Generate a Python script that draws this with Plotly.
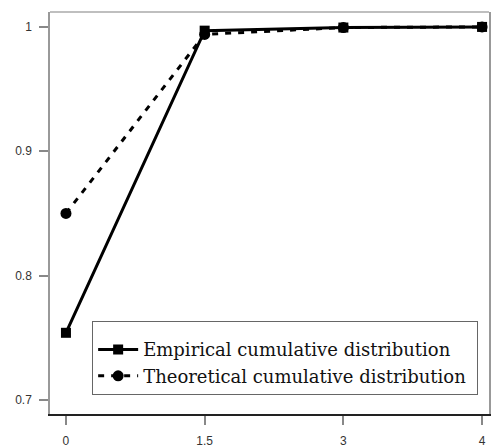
import plotly.graph_objects as go

x_labels = ["0", "1.5", "3", "4"]
empirical = [0.754, 0.997, 0.9995, 1.0]
theoretical = [0.850, 0.994, 0.9995, 1.0]
y_ticks = [0.7, 0.8, 0.9, 1.0]
y_ticktext = ["0.7", "0.8", "0.9", "1"]

fig = go.Figure()
fig.add_trace(go.Scatter(
    x=x_labels, y=empirical, mode="lines+markers",
    name="Empirical cumulative distribution",
    line=dict(color="black", width=3),
    marker=dict(symbol="square", size=10, color="black"),
))
fig.add_trace(go.Scatter(
    x=x_labels, y=theoretical, mode="lines+markers",
    name="Theoretical cumulative distribution ",
    line=dict(color="black", width=3, dash="6px,7px"),
    marker=dict(symbol="circle", size=11, color="black"),
))

fig.update_layout(
    width=491, height=448,
    margin=dict(l=50, r=0, t=12, b=34),
    plot_bgcolor="white", paper_bgcolor="white",
    showlegend=True,
    legend=dict(
        x=0.096, y=0.047, xanchor="left", yanchor="bottom",
        bordercolor="#666", borderwidth=1, bgcolor="white",
        font=dict(family="DejaVu Serif", size=18, color="#111"),
        title=dict(text=" ", font=dict(size=7)),
        itemwidth=40, tracegroupgap=0,
    ),
    xaxis=dict(
        type="category", range=[-0.115, 3.05],
        showgrid=False, zeroline=False,
        showline=True, linecolor="#222", linewidth=1.5,
        ticks="outside", ticklen=9, tickcolor="#888", tickwidth=1.5,
        tickfont=dict(family="Liberation Sans", size=12, color="#333"),
        ticklabelstandoff=6,
    ),
    yaxis=dict(
        range=[0.6887, 1.012],
        tickvals=y_ticks, ticktext=y_ticktext,
        showgrid=False, zeroline=False,
        showline=True, linecolor="#999", linewidth=1.5, mirror=True,
        ticks="outside", ticklen=9, tickcolor="#888", tickwidth=1.5,
        tickfont=dict(family="Liberation Sans", size=12, color="#333"),
        ticklabelstandoff=5,
    ),
)
fig.add_shape(type="line", xref="paper", yref="paper", x0=0, x1=1, y0=1, y1=1,
              line=dict(color="#aaa", width=1.5))

fig.write_html("out.html")
